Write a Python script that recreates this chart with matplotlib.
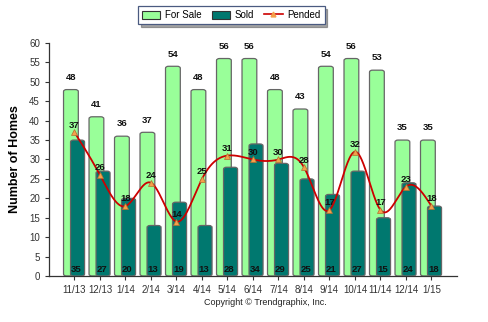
import numpy as np
import matplotlib
matplotlib.use("Agg")
import matplotlib.pyplot as plt
from matplotlib.patches import FancyBboxPatch, Patch
from matplotlib.lines import Line2D

months = ["11/13", "12/13", "1/14", "2/14", "3/14", "4/14", "5/14", "6/14",
          "7/14", "8/14", "9/14", "10/14", "11/14", "12/14", "1/15"]
for_sale = [48, 41, 36, 37, 54, 48, 56, 56, 48, 43, 54, 56, 53, 35, 35]
sold = [35, 27, 20, 13, 19, 13, 28, 34, 29, 25, 21, 27, 15, 24, 18]
pended = [37, 26, 18, 24, 14, 25, 31, 30, 30, 28, 17, 32, 17, 23, 18]
y_ticks = list(range(0, 61, 5))

GREEN = "#99FF99"
TEAL = "#00786F"
RED = "#CC0000"
ORANGE = "#F5A04A"
EDGE = "#666666"

plt.rcParams["font.family"] = ["Liberation Sans", "DejaVu Sans"]

fig = plt.figure(figsize=(4.88, 3.22), dpi=100)
ax = fig.add_axes([0.1004, 0.1429, 0.836, 0.7236])

x = np.arange(len(months))


def rounded_bar(ax, xc, h, w, color, z):
    r = 0.12
    p = FancyBboxPatch((xc - w / 2, 0), w, h,
                       boxstyle=f"round,pad=0,rounding_size={r}",
                       mutation_aspect=4.2,
                       facecolor=color, edgecolor=EDGE, linewidth=0.9, zorder=z)
    ax.add_patch(p)


fs_off, sd_off = -0.14, 0.12
for xi, v in zip(x, for_sale):
    rounded_bar(ax, xi + fs_off, v, 0.58, GREEN, 2)
    ax.text(xi + fs_off, v + 2.0, str(v), ha="center", va="bottom",
            fontsize=6.8, fontweight="bold", color="#111111", zorder=6)
for xi, v in zip(x, sold):
    rounded_bar(ax, xi + sd_off, v, 0.55, TEAL, 3)
    ax.text(xi + sd_off - 0.05, 0.6, str(v), ha="center", va="bottom",
            fontsize=6.8, fontweight="bold", color="#111111", zorder=6)


# natural cubic spline through the pended points for a smooth line
def natural_spline(xs, ys, n=600):
    xs = np.asarray(xs, float)
    ys = np.asarray(ys, float)
    m = len(xs)
    h = np.diff(xs)
    A = np.zeros((m, m))
    b = np.zeros(m)
    A[0, 0] = A[-1, -1] = 1
    for i in range(1, m - 1):
        A[i, i - 1] = h[i - 1]
        A[i, i] = 2 * (h[i - 1] + h[i])
        A[i, i + 1] = h[i]
        b[i] = 6 * ((ys[i + 1] - ys[i]) / h[i] - (ys[i] - ys[i - 1]) / h[i - 1])
    M = np.linalg.solve(A, b)
    xx = np.linspace(xs[0], xs[-1], n)
    idx = np.clip(np.searchsorted(xs, xx) - 1, 0, m - 2)
    x0, x1 = xs[idx], xs[idx + 1]
    hh = x1 - x0
    yy = (M[idx] * (x1 - xx) ** 3 / (6 * hh) + M[idx + 1] * (xx - x0) ** 3 / (6 * hh)
          + (ys[idx] / hh - M[idx] * hh / 6) * (x1 - xx)
          + (ys[idx + 1] / hh - M[idx + 1] * hh / 6) * (xx - x0))
    return xx, yy


sx, sy = natural_spline(x, pended)
ax.plot(sx, sy, color=RED, linewidth=1.3, zorder=4)
ax.plot(x, pended, linestyle="none", marker="^", markersize=5,
        markerfacecolor=ORANGE, markeredgecolor="#B07030", markeredgewidth=0.5, zorder=5)
for xi, v in zip(x, pended):
    ax.text(xi, v + 0.7, str(v), ha="center", va="bottom",
            fontsize=6.8, fontweight="bold", color="#111111", zorder=6)

ax.set_xlim(-1, 15)
ax.set_ylim(0, 60)
ax.set_xticks(x)
ax.set_xticklabels(months)
ax.set_yticks(y_ticks)
ax.tick_params(axis="both", labelsize=7, colors="#333333", length=3, width=0.8)
for s in ("top", "right"):
    ax.spines[s].set_visible(False)
for s in ("left", "bottom"):
    ax.spines[s].set_color("#333333")
    ax.spines[s].set_linewidth(0.9)

ax.set_ylabel("Number of Homes", fontsize=9, fontweight="bold", labelpad=6)

handles = [Patch(facecolor=GREEN, edgecolor="#333333", linewidth=0.8, label="For Sale"),
           Patch(facecolor=TEAL, edgecolor="#333333", linewidth=0.8, label="Sold"),
           Line2D([0], [0], color=RED, linewidth=1.2, marker="^", markersize=3.5,
                  markerfacecolor=ORANGE, markeredgecolor=ORANGE, label="Pended")]
leg = fig.legend(handles=handles, loc="center", bbox_to_anchor=(0.474, 0.953),
                 ncol=3, fontsize=7, frameon=True, fancybox=False, shadow=True,
                 handlelength=1.9, handleheight=0.9, columnspacing=1.0,
                 borderpad=0.4, handletextpad=0.5)
leg.get_frame().set_edgecolor("#4A5A80")
leg.get_frame().set_linewidth(0.9)

fig.text(0.543, 0.062, "Copyright \u00a9 Trendgraphix, Inc.", ha="center", va="center",
         fontsize=6.5, color="#222222")

fig.savefig("out.png", dpi=100)
